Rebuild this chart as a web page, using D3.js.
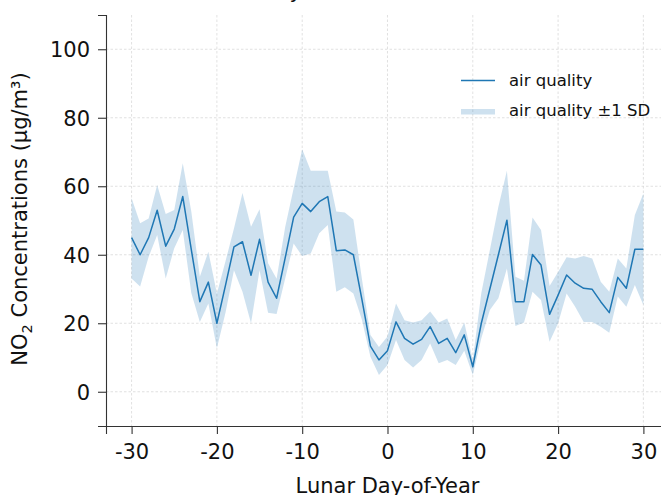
<!DOCTYPE html>
<html>
<head>
<meta charset="utf-8">
<script src="https://cdn.jsdelivr.net/npm/d3@7"></script>
<style>
  html, body { margin: 0; padding: 0; background: #fff; }
  svg { display: block; font-family: "DejaVu Sans", sans-serif; }
</style>
</head>
<body>
<svg id="chart" width="661" height="495"></svg>
<script>
const days = d3.range(-30, 31);
const meanValues = [45, 40, 45, 53, 42.5, 47.5, 57, 41.5, 26.3, 32, 20, 31, 42.3, 43.8, 34, 44.5, 32, 27.3, 39, 51,
  55, 52.6, 55.5, 57, 41.2, 41.4, 40, 27, 13.3, 9.3,
  12, 20.4, 15.6, 13.9, 15.3, 19, 14.1, 15.6, 11.4, 16.6,
  7.3, 20, 30, 40, 50.1, 26.3, 26.3, 40.1, 37, 22.6,
  28.2, 34.1, 31.7, 30.2, 29.9, 26.3, 23.1, 33.4, 30.2, 41.6, 41.6];
const upperValues = [56.5, 49.2, 50.6, 60.4, 51.9, 53.1, 66.7, 52.6, 33.6, 40.9, 28.7, 38, 47.7, 58, 48.2, 53.3, 37.5, 33, 48, 59.4,
  70.8, 64.5, 64.5, 64.5, 52.6, 52.3, 50.3, 33, 16.6, 13.1,
  16.1, 25.8, 20.9, 20.2, 20.9, 23.4, 20.2, 21.4, 15.1, 20.2,
  9.3, 28.8, 41.4, 54, 64.5, 33.6, 32.4, 50.9, 47.2, 30.9,
  35, 39.3, 38.9, 39.6, 38.9, 32.1, 29.2, 38.9, 36, 51.6, 57.9];
const lowerValues = [33.1, 30.7, 39.4, 45.8, 33.1, 41.9, 47.2, 28.8, 20.4, 25.8, 12.7, 23, 35.5, 29.2, 20, 35.5, 23.1, 22.7, 33, 43.3,
  39.6, 40.4, 46.3, 48.7, 29.2, 30.5, 28.7, 21, 10.2, 4.9,
  7.8, 15.1, 9.3, 7.1, 9.3, 14.1, 8.3, 9.3, 7.8, 12,
  4.9, 15.6, 23.9, 27.3, 36, 19.2, 20.2, 29.2, 26.8, 14.6,
  20, 28.7, 24.8, 20.4, 20.4, 19, 17.2, 27.8, 24.8, 31.2, 25.3];
const xTicks = [-30, -20, -10, 0, 10, 20, 30];
const yTicks = [0, 20, 40, 60, 80, 100];
const seriesName = "air quality";

const rows = days.map((d, i) => ({ day: d, mean: meanValues[i], lo: lowerValues[i], hi: upperValues[i] }));

const svg = d3.select("#chart");
const mLeft = 106, mTop = 15, mBottom = 426;
const x = d3.scaleLinear().domain([-33, 33]).range([mLeft, mLeft + 66 * 8.53]);
const y = d3.scaleLinear().domain([-10, 110]).range([mBottom, mTop]);

const lineColor = "#1f77b4";

// grid
const grid = svg.append("g");
grid.selectAll("line.vg").data(xTicks).join("line")
  .attr("x1", d => x(d)).attr("x2", d => x(d))
  .attr("y1", mTop).attr("y2", mBottom)
  .attr("stroke", "#d9d9d9").attr("stroke-width", 0.8).attr("stroke-dasharray", "2.5,2");
grid.selectAll("line.hg").data(yTicks).join("line")
  .attr("x1", mLeft).attr("x2", 661)
  .attr("y1", d => y(d)).attr("y2", d => y(d))
  .attr("stroke", "#d9d9d9").attr("stroke-width", 0.8).attr("stroke-dasharray", "2.5,2");

// band
const area = d3.area().x(d => x(d.day)).y0(d => y(d.lo)).y1(d => y(d.hi));
svg.append("path").datum(rows).attr("d", area)
  .attr("fill", lineColor).attr("fill-opacity", 0.22).attr("stroke", "none");

// line
const line = d3.line().x(d => x(d.day)).y(d => y(d.mean));
svg.append("path").datum(rows).attr("d", line)
  .attr("fill", "none").attr("stroke", lineColor).attr("stroke-width", 1.5).attr("stroke-linejoin", "round");

// axes
const xAxis = svg.append("g").attr("transform", `translate(0,${mBottom})`)
  .call(d3.axisBottom(x).tickValues(xTicks).tickSize(8).tickPadding(10).tickFormat(d3.format("d")));
const yAxis = svg.append("g").attr("transform", `translate(${mLeft},0)`)
  .call(d3.axisLeft(y).tickValues(yTicks).tickSize(8).tickPadding(8).tickFormat(d3.format("d")));
[xAxis, yAxis].forEach(g => {
  g.select(".domain").attr("stroke", "#333").attr("stroke-width", 1.1);
  g.selectAll(".tick line").attr("stroke", "#333").attr("stroke-width", 1.1);
  g.selectAll(".tick text").attr("fill", "#111").style("font-size", "21px")
    .style("font-family", "'DejaVu Sans', sans-serif");
});
xAxis.selectAll(".tick text").text(d => d < 0 ? "-" + Math.abs(d) : d);
yAxis.selectAll(".tick text").attr("dy", "0.35em");

// axis labels
svg.append("text").attr("x", x(0)).attr("y", 493)
  .attr("text-anchor", "middle").attr("fill", "#111").style("font-size", "21px")
  .text("Lunar Day-of-Year");

const yl = svg.append("text")
  .attr("transform", `translate(27,219) rotate(-90)`)
  .attr("text-anchor", "middle").attr("fill", "#111").style("font-size", "21px");
yl.append("tspan").text("NO");
yl.append("tspan").text("2").style("font-size", "14.5px").attr("dy", "5");
yl.append("tspan").text(" Concentrations (μg/m³)").attr("dy", "-5");

// title (mostly cropped above)
svg.append("text").attr("x", 302).attr("y", -2).attr("text-anchor", "end")
  .attr("fill", "#111").style("font-size", "21px").text("Daily");

// legend
const lg = svg.append("g");
lg.append("line").attr("x1", 461).attr("x2", 495).attr("y1", 80.5).attr("y2", 80.5)
  .attr("stroke", lineColor).attr("stroke-width", 1.5);
lg.append("text").attr("x", 509).attr("y", 86).attr("fill", "#111").style("font-size", "16.5px").text(seriesName);
lg.append("rect").attr("x", 461).attr("y", 109).attr("width", 34).attr("height", 5.5)
  .attr("fill", lineColor).attr("fill-opacity", 0.22);
lg.append("text").attr("x", 509).attr("y", 116).attr("fill", "#111").style("font-size", "16.5px").text(seriesName + " ±1 SD");
</script>
</body>
</html>
